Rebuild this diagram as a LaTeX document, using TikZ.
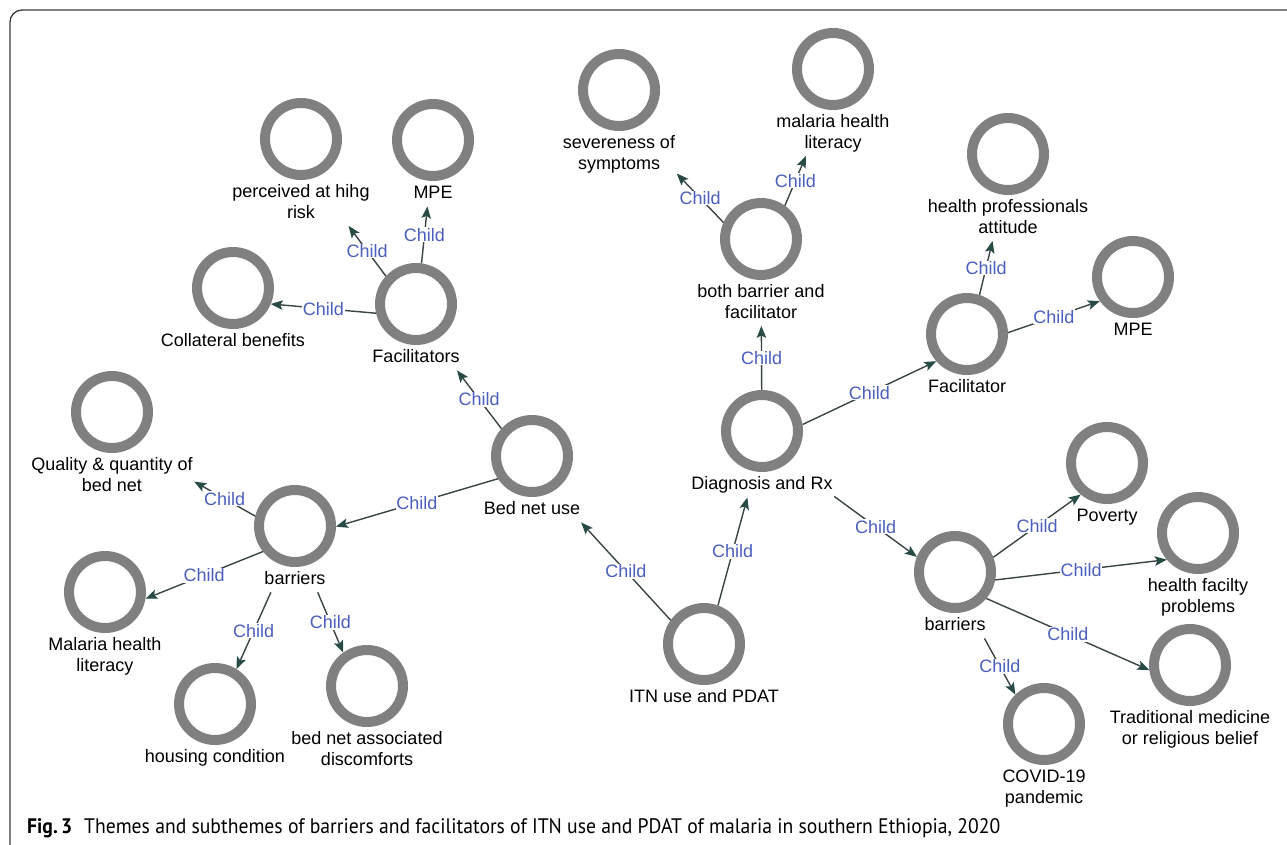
\documentclass[tikz,border=0pt]{standalone}
\usepackage{fontspec}
\setmainfont{Liberation Sans}
\newfontfamily\capfont{PT Sans}
\usetikzlibrary{arrows.meta,fit,intersections}
\definecolor{ringgray}{RGB}{128,128,128}
\definecolor{edgecol}{RGB}{58,68,68}
\definecolor{arrowcol}{RGB}{40,75,70}
\definecolor{childblue}{RGB}{75,95,190}
\definecolor{framecol}{RGB}{60,60,60}
\newcommand\lblfont{\fontsize{18}{20.5}\selectfont}
\newcommand\mkconcept[4]{%
  \node[ring] (#1c) at (#2,#3) {};
  \node[lbl] (#1l) at ([yshift=-1.5pt]#1c.south) {#4};
  \node[cbox, fit=(#1c)(#1l)] (#1) {};
  \path[name path global=#1u] (#1c.center) circle[radius=41pt]
       (#1l.south west) rectangle (#1l.north east);
}
\newcommand\mkedge[2]{%
  \path[name path=ln] (#1.center) -- (#2.center);
  \path[name intersections={of=ln and #1u, sort by=ln, name=S, total=\ts}]
       (S-\ts) coordinate (#1-#2-s);
  \path[name intersections={of=ln and #2u, sort by=ln, name=E}]
       (E-1) coordinate (#1-#2-e);
  \draw[edge] (#1-#2-s) -- node[childlbl] {Child} (#1-#2-e);
}
\tikzset{
  ring/.style={circle, draw=ringgray, line width=10pt, minimum size=72pt, inner sep=0pt, outer sep=5pt},
  lbl/.style={align=center, font=\lblfont, inner sep=1.5pt, anchor=north},
  cbox/.style={rectangle, inner sep=0pt, draw=none},
  edge/.style={draw=edgecol, line width=1.4pt, -{Stealth[length=12pt,width=9.5pt,inset=2.5pt,color=arrowcol]}},
  childlbl/.style={fill=white, inner sep=0.8pt, text=childblue, font=\lblfont, midway}
}
\begin{document}
\begin{tikzpicture}[x=1pt,y=-1pt]
\useasboundingbox (0,0) rectangle (1287,845);
\draw[framecol, line width=1.3pt, rounded corners=12pt] (10,845) -- (10,10) -- (1287,10);

\mkconcept{perc}{301}{139}{\strut perceived at hihg\\\strut risk}
\mkconcept{mpeL}{433}{140}{\strut MPE}
\mkconcept{coll}{233}{288}{\strut Collateral benefits}
\mkconcept{facs}{416}{304}{\strut Facilitators}
\mkconcept{qual}{112}{412}{\strut Quality \& quantity of\\\strut bed net}
\mkconcept{barL}{295}{526}{\strut barriers}
\mkconcept{malL}{105}{592}{\strut Malaria health\\\strut literacy}
\mkconcept{house}{215}{704}{\strut housing condition}
\mkconcept{disc}{367}{686}{\strut bed net associated\\\strut discomforts}
\mkconcept{bed}{532}{456}{\strut Bed net use}
\mkconcept{itn}{704}{644}{\strut ITN use and PDAT}
\mkconcept{diag}{762}{431}{\strut Diagnosis and Rx}
\mkconcept{both}{761}{239}{\strut both barrier and\\\strut facilitator}
\mkconcept{sev}{619}{90}{\strut severeness of\\\strut symptoms}
\mkconcept{malT}{833}{69}{\strut malaria health\\\strut literacy}
\mkconcept{hprof}{1008}{154}{\strut health professionals\\\strut attitude}
\mkconcept{facR}{967}{334}{\strut Facilitator}
\mkconcept{mpeR}{1133}{277}{\strut MPE}
\mkconcept{pov}{1107}{463}{\strut Poverty}
\mkconcept{barR}{955}{572}{\strut barriers}
\mkconcept{hfac}{1198}{533}{\strut health facilty\\\strut problems}
\mkconcept{trad}{1190}{665}{\strut Traditional medicine\\\strut or religious belief}
\mkconcept{covid}{1044}{724}{\strut COVID-19\\\strut pandemic}

\foreach \p/\c in {itn/bed, itn/diag, bed/barL, bed/facs, facs/coll, facs/perc, facs/mpeL,
  barL/qual, barL/malL, barL/house, barL/disc, diag/both, diag/facR, diag/barR,
  both/sev, both/malT, facR/hprof, facR/mpeR, barR/pov, barR/hfac, barR/trad, barR/covid}
  {\mkedge{\p}{\c}}

\node[anchor=base west, inner sep=0pt, font=\capfont\fontsize{21}{24}\selectfont] (cap) at (27,833)
  {\resizebox{973pt}{\height}{\textbf{Fig.\,3}\hspace{0.6em}Themes and subthemes of barriers and facilitators of ITN use and PDAT of malaria in southern Ethiopia, 2020}};
\end{tikzpicture}
\end{document}
